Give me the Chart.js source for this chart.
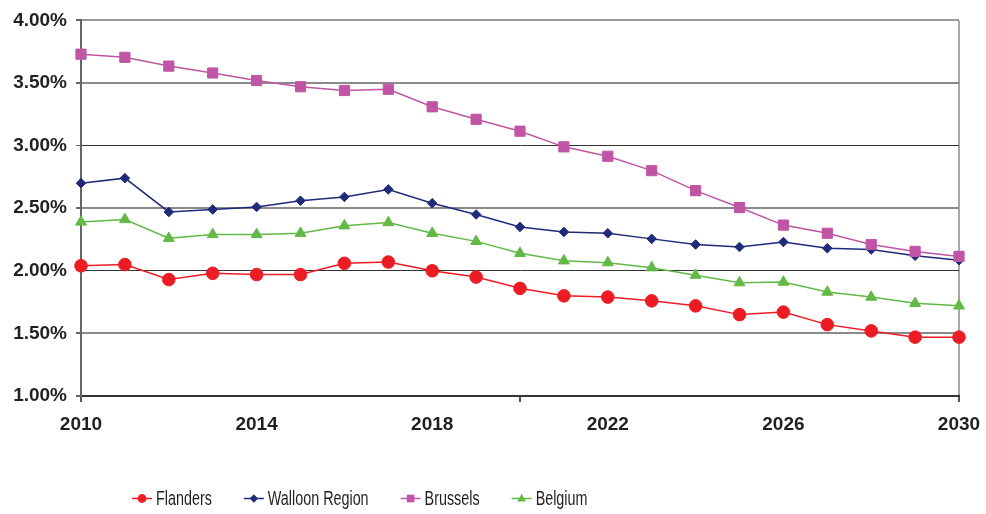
<!DOCTYPE html>
<html>
<head>
<meta charset="utf-8">
<script src="https://cdn.jsdelivr.net/npm/chart.js@4/dist/chart.umd.min.js"></script>
<style>
  body { margin: 0; background: #fff; }
  #contenedor { width: 986px; height: 514px; position: relative; }
</style>
</head>
<body>
<div id="contenedor"><canvas id="grafico"></canvas></div>
<script>
const anios = [2010, 2011, 2012, 2013, 2014, 2015, 2016, 2017, 2018, 2019, 2020,
    2021, 2022, 2023, 2024, 2025, 2026, 2027, 2028, 2029, 2030];
const nombresSeries = ['Flanders', 'Walloon Region', 'Brussels', 'Belgium'];
const flanders = [2.04, 2.05, 1.93, 1.98, 1.97, 1.97, 2.06, 2.07, 2.00, 1.95, 1.86,
    1.80, 1.79, 1.76, 1.72, 1.65, 1.67, 1.57, 1.52, 1.47, 1.47];
const walloon = [2.70, 2.74, 2.47, 2.49, 2.51, 2.56, 2.59, 2.65, 2.54, 2.45, 2.35,
    2.31, 2.30, 2.255, 2.21, 2.19, 2.23, 2.18, 2.17, 2.12, 2.085];
const brussels = [3.73, 3.705, 3.635, 3.58, 3.52, 3.47, 3.44, 3.45, 3.31, 3.21, 3.115,
    2.99, 2.915, 2.80, 2.64, 2.505, 2.365, 2.30, 2.21, 2.155, 2.115];
const belgium = [2.39, 2.41, 2.26, 2.29, 2.29, 2.30, 2.36, 2.385, 2.30, 2.235, 2.14,
    2.08, 2.065, 2.025, 1.965, 1.905, 1.91, 1.83, 1.79, 1.74, 1.72];
const ticksY = [1.0, 1.5, 2.0, 2.5, 3.0, 3.5, 4.0];

const colores = ['#ed1c24', '#1f2a7a', '#c055a5', '#62b946'];
const formas = ['circle', 'rectRot', 'rect', 'triangle'];
const radios = [6.3, 4.8, 7.2, 6.3];
const fuente = "'Liberation Sans', Arial, Helvetica, sans-serif";

// colores de las lineas horizontales, algunas grises y otras oscuras como en el original
function colorLineaY(valor) {
    let v = Math.round(valor * 100);
    if (v == 100 || v == 200 || v == 300) return '#333333';
    if (v == 400) return '#9a9a9a';
    return '#8a8a8a';
}
function anchoLineaY(valor) {
    let v = Math.round(valor * 100);
    if (v == 200 || v == 300) return 1;
    return 2;
}

function dibujarMarca(ctx, forma, x, y, r) {
    ctx.beginPath();
    if (forma == 'circle') {
        ctx.arc(x, y, r, 0, Math.PI * 2);
    } else if (forma == 'rectRot') {
        ctx.moveTo(x, y - r); ctx.lineTo(x + r, y); ctx.lineTo(x, y + r); ctx.lineTo(x - r, y);
        ctx.closePath();
    } else if (forma == 'rect') {
        ctx.rect(x - r, y - r, 2 * r, 2 * r);
    } else {
        ctx.moveTo(x, y - r); ctx.lineTo(x + r * 0.9, y + r * 0.6); ctx.lineTo(x - r * 0.9, y + r * 0.6);
        ctx.closePath();
    }
    ctx.fill();
}

// leyenda propia: linea con marca y texto angosto
const leyendaPlugin = {
    id: 'leyendaPropia',
    afterDraw(chart) {
        const ctx = chart.ctx;
        const radiosLeyenda = [4.4, 4.2, 3.8, 4.8];
        const escala = 0.7;
        let x = 132;
        const y = 498.5;
        ctx.save();
        ctx.font = '20.5px ' + fuente;
        ctx.textBaseline = 'middle';
        for (let i = 0; i < chart.data.datasets.length; i++) {
            let ds = chart.data.datasets[i];
            ctx.strokeStyle = ds.borderColor;
            ctx.fillStyle = ds.borderColor;
            ctx.lineWidth = 1.5;
            ctx.beginPath();
            ctx.moveTo(x, y);
            ctx.lineTo(x + 20, y);
            ctx.stroke();
            dibujarMarca(ctx, formas[i], x + 10, y, radiosLeyenda[i]);
            let anchoTexto = ctx.measureText(ds.label).width * escala;
            ctx.fillStyle = '#231f20';
            ctx.save();
            ctx.translate(x + 24, y + 1);
            ctx.scale(escala, 1);
            ctx.fillText(ds.label, 0, 0);
            ctx.restore();
            x += 24 + anchoTexto + 32;
        }
        ctx.restore();
    }
};

function crearGrafico(idChart) {
    let series = [flanders, walloon, brussels, belgium];
    let datasets = [];
    for (let i = 0; i < series.length; i++) {
        datasets.push({
            label: nombresSeries[i],
            data: series[i],
            borderColor: colores[i],
            backgroundColor: colores[i],
            borderWidth: 1.5,
            pointStyle: formas[i],
            pointRadius: radios[i],
            pointBorderWidth: 1,
            pointBorderColor: colores[i],
            pointBackgroundColor: colores[i],
            tension: 0,
            order: series.length - 1 - i
        });
    }
    let elementoDOM = document.getElementById(idChart).getContext('2d');
    return new Chart(elementoDOM, {
        type: 'line',
        data: { labels: anios, datasets: datasets },
        plugins: [leyendaPlugin],
        options: {
            responsive: true,
            maintainAspectRatio: false,
            animation: false,
            layout: { padding: { top: 20, right: 27, bottom: 78, left: 0 } },
            plugins: { legend: { display: false }, tooltip: { enabled: false } },
            scales: {
                x: {
                    type: 'category',
                    offset: false,
                    afterFit: (s) => { s.height = 40; s.paddingRight = 0; s.paddingLeft = 0; },
                    ticks: {
                        autoSkip: false,
                        maxRotation: 0,
                        padding: 11,
                        color: '#231f20',
                        font: { family: fuente, size: 19, weight: 'bold' },
                        callback: (v, i) => (i % 4 == 0 ? String(anios[i]) : '')
                    },
                    grid: {
                        drawOnChartArea: true,
                        color: (c) => (c.index == anios.length - 1 ? '#a8a8a8' : 'rgba(0,0,0,0)'),
                        lineWidth: 2,
                        tickLength: 6,
                        tickColor: (c) => (anios[c.index] % 10 == 0 ? '#555' : 'rgba(0,0,0,0)')
                    },
                    border: { color: '#333', width: 2 }
                },
                y: {
                    min: ticksY[0],
                    max: ticksY[ticksY.length - 1],
                    afterFit: (s) => { s.width = 81; },
                    afterBuildTicks: (s) => { s.ticks = ticksY.map(v => ({ value: v })); },
                    ticks: {
                        padding: 9,
                        color: '#231f20',
                        font: { family: fuente, size: 19, weight: 'bold' },
                        callback: (v) => v.toFixed(2) + '%'
                    },
                    grid: {
                        color: (c) => colorLineaY(c.tick.value),
                        lineWidth: (c) => anchoLineaY(c.tick.value),
                        tickLength: 5,
                        tickColor: '#666'
                    },
                    border: { color: '#666', width: 2 }
                }
            }
        }
    });
}

crearGrafico('grafico');
</script>
</body>
</html>
